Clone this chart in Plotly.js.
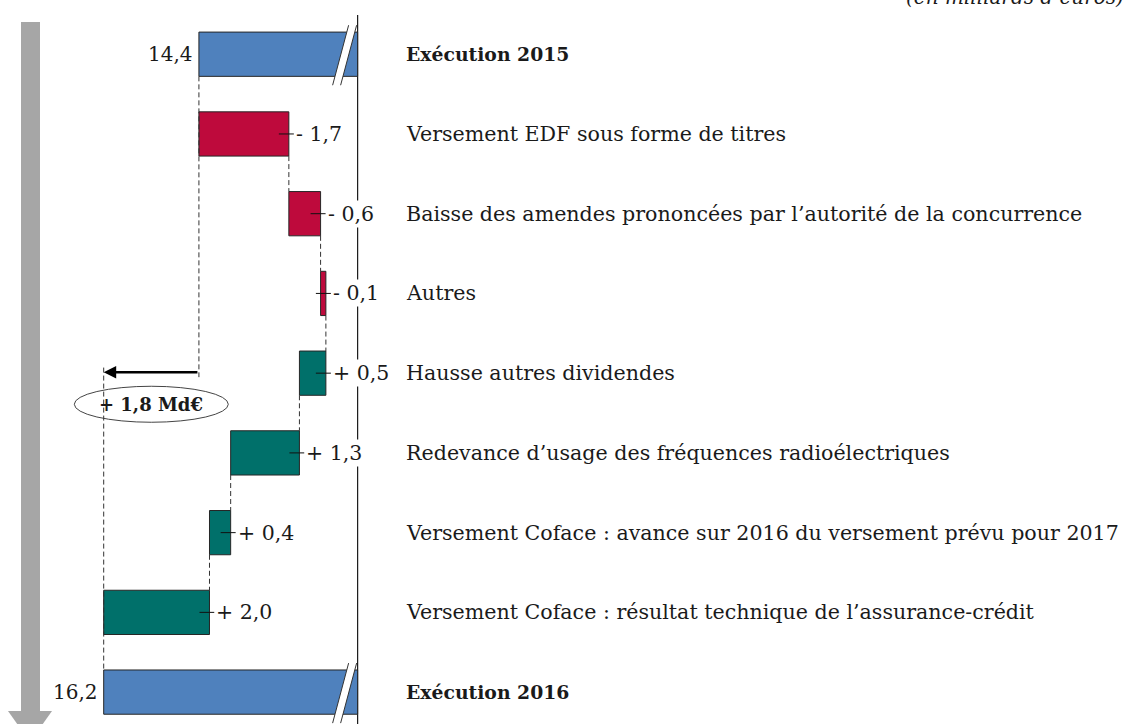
<!DOCTYPE html>
<html><head><meta charset="utf-8">
<script src="https://cdn.plot.ly/plotly-3.0.1.min.js"></script>
<style>html,body{margin:0;padding:0;background:#fff;}#chart{width:1130px;height:724px;}</style>
</head><body><div id="chart"></div>
<script>
// ---- data ----
const categories = [
  "Exécution 2015",
  "Versement EDF sous forme de titres",
  "Baisse des amendes prononcées par l’autorité de la concurrence",
  "Autres",
  "Hausse autres dividendes",
  "Redevance d’usage des fréquences radioélectriques",
  "Versement Coface : avance sur 2016 du versement prévu pour 2017",
  "Versement Coface : résultat technique de l’assurance-crédit",
  "Exécution 2016"
];
const measures = ["total","relative","relative","relative","relative","relative","relative","relative","total"];
const values = [14.4, -1.7, -0.6, -0.1, 0.5, 1.3, 0.4, 2.0, 16.2];
const valueLabels = ["14,4","- 1,7","- 0,6","- 0,1","+ 0,5","+ 1,3","+ 0,4","+ 2,0","16,2"];
const changeLabel = "+ 1,8 Md€";
const unitNote = "(en milliards d’euros)";

// ---- layout constants ----
const W = 1130, H = 724;
const xRange = [18.16, -3.2];     // reversed: higher values to the left
const yRange = [8.40, -0.68];
const BREAK = 11.4;               // axis cut where total bars are broken
const PPU = W / (xRange[0] - xRange[1]);
const PPR = H / (yRange[0] - yRange[1]);
const BAR_W = 0.555;
const FONT = "DejaVu Serif, Liberation Serif, serif";
const TXT = "#1a1a1a";

const n = values.length;
const starts = [], ends = [];
let run = 0;
values.forEach((v, i) => {
  if (measures[i] === "total") { starts.push(BREAK); ends.push(v); run = v; }
  else { starts.push(run); run = +(run + v).toFixed(4); ends.push(run); }
});

function barTrace(filter, color) {
  const idx = [...Array(n).keys()].filter(filter);
  return {
    type: "bar", orientation: "h", y: idx,
    base: idx.map(i => starts[i]), x: idx.map(i => ends[i] - starts[i]),
    width: BAR_W, marker: { color: color, line: { color: "#262626", width: 1 } },
    hoverinfo: "skip"
  };
}
const traces = [
  barTrace(i => measures[i] === "total", "#4F81BD"),
  barTrace(i => measures[i] !== "total" && values[i] < 0, "#BE0A3C"),
  barTrace(i => measures[i] !== "total" && values[i] > 0, "#00706A")
];

const dx = p => p / PPU;   // pixels -> x units (positive = to the left)
const dy = p => p / PPR;   // pixels -> y units (positive = downward)
const shapes = [];
const annotations = [];

// ellipse around change label
const firstTotal = values[0], lastTotal = values[n - 1];
const mid = (firstTotal + lastTotal) / 2;
const ellY = 4.39;
shapes.push({ type: "circle", xref: "x", yref: "y",
  x0: mid + dx(77), x1: mid - dx(77), y0: ellY - dy(18), y1: ellY + dy(18),
  line: { color: "#444", width: 1 }, fillcolor: "rgba(255,255,255,0)" });

// axis line
shapes.push({ type: "line", xref: "x", yref: "paper", x0: BREAK, x1: BREAK, y0: 0, y1: 1 - 15 / H,
  line: { color: "#1a1a1a", width: 1.2 }, layer: "below" });

// connectors
const dash = { color: "#333", width: 1, dash: "5px,3px" };
for (let i = 1; i < n - 2; i++) {
  shapes.push({ type: "line", xref: "x", yref: "y", x0: ends[i], x1: ends[i],
    y0: i + BAR_W / 2, y1: i + 1 - BAR_W / 2, line: dash });
}
shapes.push({ type: "line", xref: "x", yref: "y", x0: firstTotal, x1: firstTotal,
  y0: BAR_W / 2, y1: 4.05, line: dash });
shapes.push({ type: "line", xref: "x", yref: "y", x0: lastTotal, x1: lastTotal,
  y0: 3.93, y1: n - 1 - BAR_W / 2, line: dash });

// leaders + value labels
for (let i = 0; i < n; i++) {
  if (measures[i] === "total") {
    annotations.push({ x: ends[i], y: i, xref: "x", yref: "y", text: valueLabels[i],
      showarrow: false, xanchor: "right", xshift: -4, font: { family: FONT, size: 20, color: TXT } });
    // break marks
    const P = (px, py) => [BREAK + dx(358 - px), i + dy(py)];
    const bl = P(333, 31), tl = P(349, -29), tr = P(357, -29), br = P(341, 31);
    shapes.push({ type: "path", xref: "x", yref: "y",
      path: `M ${bl[0]} ${bl[1]} L ${tl[0]} ${tl[1]} L ${tr[0]} ${tr[1]} L ${br[0]} ${br[1]} Z`,
      fillcolor: "#ffffff", line: { width: 0 } });
    [[bl, tl], [br, tr]].forEach(([a, b]) => shapes.push({ type: "line", xref: "x", yref: "y",
      x0: a[0], y0: a[1], x1: b[0], y1: b[1], line: { color: "#333", width: 1 } }));
  } else {
    const edge = Math.min(starts[i], ends[i]);
    shapes.push({ type: "line", xref: "x", yref: "y", x0: edge + dx(10), x1: edge - dx(5),
      y0: i, y1: i, line: { color: "#111", width: 1 } });
    annotations.push({ x: edge, y: i, xref: "x", yref: "y", text: valueLabels[i],
      showarrow: false, xanchor: "left", xshift: 5, bgcolor: "#ffffff",
      font: { family: FONT, size: 20.5, color: TXT } });
  }
  const bold = measures[i] === "total";
  annotations.push({ x: 404 / W, y: i, xref: "paper", yref: "y",
    text: bold ? "<b>" + categories[i] + "</b>" : categories[i],
    showarrow: false, xanchor: "left",
    font: { family: FONT, size: bold ? 18.8 : 20.6, color: TXT } });
}

// change arrow and label
annotations.push({ x: lastTotal, y: 3.99, xref: "x", yref: "y", ax: firstTotal, ay: 3.99,
  axref: "x", ayref: "y", text: "", showarrow: true, arrowhead: 2, arrowsize: 1,
  arrowwidth: 2.5, arrowcolor: "#000", standoff: 0 });
annotations.push({ x: mid, y: ellY, xref: "x", yref: "y", text: "<b>" + changeLabel + "</b>",
  showarrow: false, font: { family: FONT, size: 18, color: TXT } });

// unit note
annotations.push({ x: 1, y: 1, xref: "paper", yref: "paper", xanchor: "right", yanchor: "middle",
  xshift: -4, yshift: 3, text: "<i>" + unitNote + "</i>", showarrow: false,
  font: { family: FONT, size: 20, color: TXT } });

// gray arrow
const px = p => p / W, py = p => 1 - p / H;
shapes.push({ type: "rect", xref: "paper", yref: "paper", x0: px(21), x1: px(40), y0: py(714), y1: py(22),
  fillcolor: "#A6A6A6", line: { width: 0 } });
shapes.push({ type: "path", xref: "paper", yref: "paper",
  path: `M ${px(8)} ${py(711)} L ${px(52)} ${py(711)} L ${px(30)} ${py(742)} Z`,
  fillcolor: "#A6A6A6", line: { width: 0 } });

const layout = {
  width: W, height: H, margin: { l: 0, r: 0, t: 0, b: 0 },
  paper_bgcolor: "#fff", plot_bgcolor: "#fff",
  barmode: "overlay", showlegend: false,
  xaxis: { range: xRange, visible: false, fixedrange: true },
  yaxis: { range: yRange, visible: false, fixedrange: true },
  shapes: shapes, annotations: annotations
};
Plotly.newPlot("chart", traces, layout, { staticPlot: true });
</script></body></html>
